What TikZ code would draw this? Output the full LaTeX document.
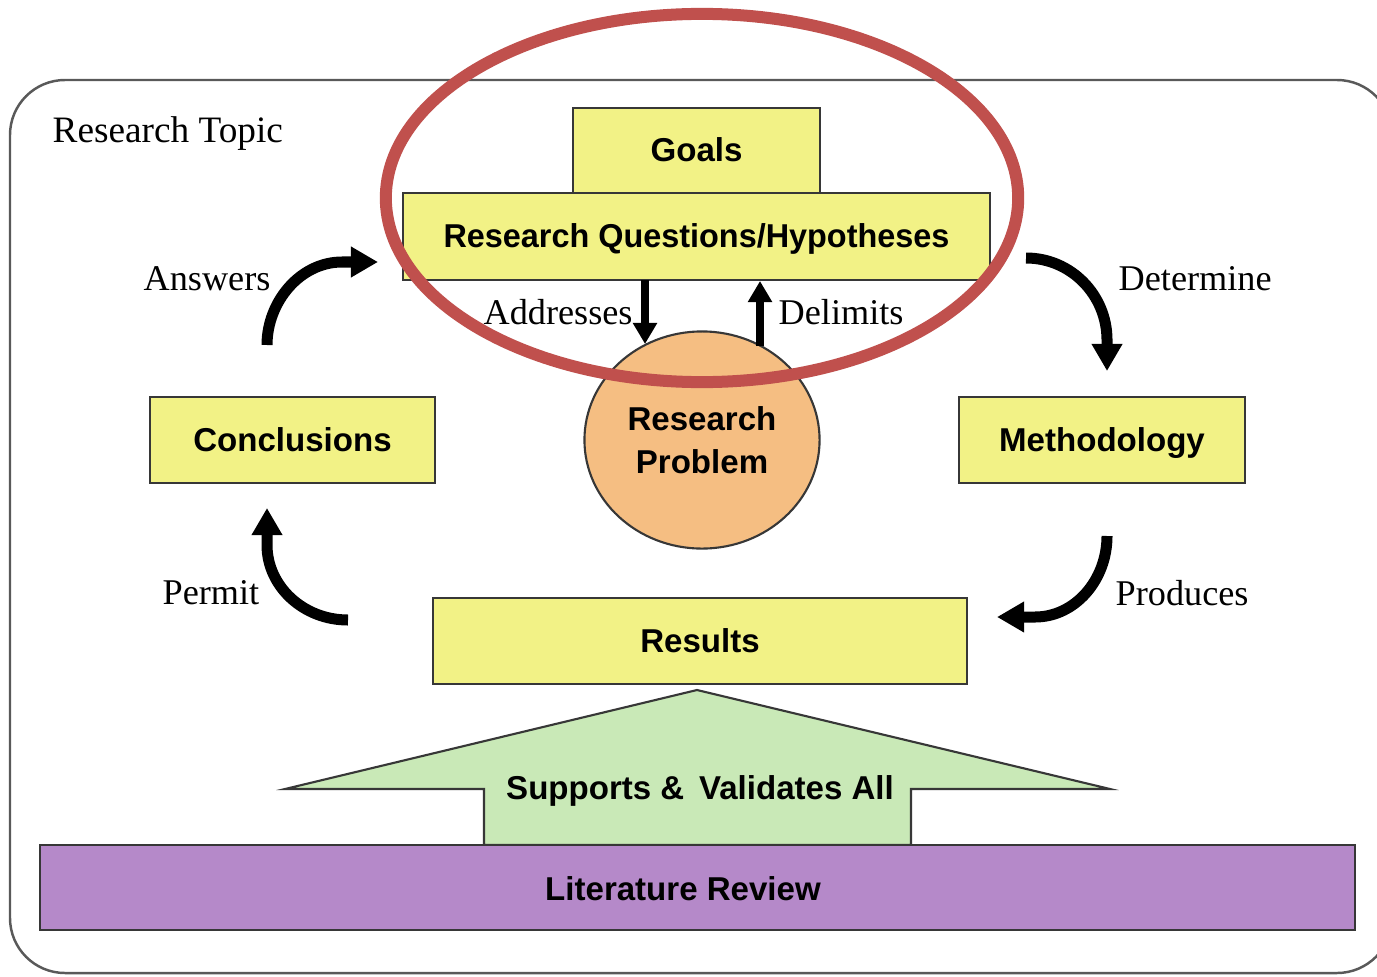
\documentclass[tikz,border=0pt]{standalone}
\usepackage{fontspec}
\setmainfont{Liberation Serif}
\newfontfamily\boxfont{Liberation Sans}
\usetikzlibrary{arrows.meta,shapes.geometric}

\definecolor{boxyellow}{RGB}{242,242,134}
\definecolor{probfill}{RGB}{245,190,130}
\definecolor{supgreen}{RGB}{201,233,183}
\definecolor{litpurple}{RGB}{181,137,201}
\definecolor{ringred}{RGB}{192,80,77}
\definecolor{edgegray}{RGB}{55,55,55}

\begin{document}
\begin{tikzpicture}[x=0.01cm,y=-0.01cm,
  boxtext/.style={font=\boxfont\bfseries\fontsize{9.4}{12.2}\selectfont},
  box/.style={draw=edgegray, line width=0.6pt, fill=boxyellow, inner sep=0pt,
    boxtext, text height=0.24cm, text depth=0.02cm},
  lbl/.style={font=\fontsize{10.3}{12}\selectfont, inner sep=0pt, anchor=base west},
  flow/.style={line width=0.11cm, -{Triangle[width=0.29cm,length=0.27cm]}},
  link/.style={line width=0.08cm, -{Triangle[width=0.23cm,length=0.21cm]}},
]
% page frame
\useasboundingbox (0,0) rectangle (1377,976);
\fill[white] (0,0) rectangle (1377,976);

% rounded research-topic frame
\draw[black!65, line width=0.7pt, rounded corners=0.55cm] (10,80) rectangle (1392,973);
\node[lbl, font=\fontsize{10.6}{12}\selectfont] (topic) at (52,143) {Research Topic};

% supporting arrow from the literature review
\draw[draw=edgegray, line width=0.6pt, fill=supgreen]
  (697,690) -- (1110,789) -- (911,789) -- (911,845) -- (484,845) -- (484,789) -- (285,789) -- cycle;
\node[boxtext, inner sep=0pt] (supports) at (700,791) {Supports \&\, Validates All};

% literature review bar
\node[draw=edgegray, line width=0.6pt, fill=litpurple, minimum width=13.15cm,
  minimum height=0.85cm, inner sep=0pt] (lit) at (697.5,887.5) {};
\node[boxtext, inner sep=0pt] (littext) at (683,889) {Literature Review};

% main boxes
\node[box, minimum width=2.47cm, minimum height=0.85cm] (goals) at (696.5,150.5) {Goals};
\node[box, minimum width=5.87cm, minimum height=0.87cm] (rq) at (696.5,236.5)
  {\addfontfeature{FakeStretch=0.98}Research Questions/Hypotheses};
\node[box, minimum width=2.85cm, minimum height=0.86cm] (concl) at (292.5,440) {Conclusions};
\node[box, minimum width=2.86cm, minimum height=0.86cm] (meth) at (1102,440) {Methodology};
\node[box, minimum width=5.34cm, minimum height=0.86cm] (results) at (700,641) {Results};
\node[ellipse, draw=edgegray, line width=0.6pt, fill=probfill, minimum width=2.35cm,
  minimum height=2.17cm, inner sep=0pt, align=center, boxtext] (problem) at (702,440) {Research\\Problem};

% cycle arrows
\coordinate (ansS) at (267,345);  \coordinate (ansE) at (378,262);
\coordinate (detS) at (1026,258); \coordinate (detE) at (1107,371);
\coordinate (prodS) at (1107,536); \coordinate (prodE) at (997,617);
\coordinate (perS) at (348,620);  \coordinate (perE) at (267,508);
\draw[flow] (ansS) .. controls (267,302) and (300,262) .. (342,262) -- (ansE);
\draw[flow] (detS) .. controls (1071,258) and (1107,295) .. (1107,340) -- (detE);
\draw[flow] (prodS) .. controls (1107,580) and (1075,617) .. (1035,617) -- (prodE);
\draw[flow] (perS) .. controls (303,620) and (267,586) .. (267,545) -- (perE);

% links between questions and problem
\coordinate (addS) at (645,280); \coordinate (addE) at (645,344);
\coordinate (delS) at (760,346); \coordinate (delE) at (760,281);
\draw[link] (addS) -- (addE);
\draw[link] (delS) -- (delE);

% arrow labels
\node[lbl] (answers) at (143,290) {Answers};
\node[lbl] (determine) at (1118,290) {Determine};
\node[lbl] (produces) at (1115,605) {Produces};
\node[lbl] (permit) at (162,604) {Permit};
\node[lbl] (addresses) at (483,324) {Addresses};
\node[lbl] (delimits) at (778,324) {Delimits};

% highlight ring
\draw[ringred, line width=0.12cm] (702,198) ellipse [x radius=3.16cm, y radius=1.84cm];
\end{tikzpicture}
\end{document}
